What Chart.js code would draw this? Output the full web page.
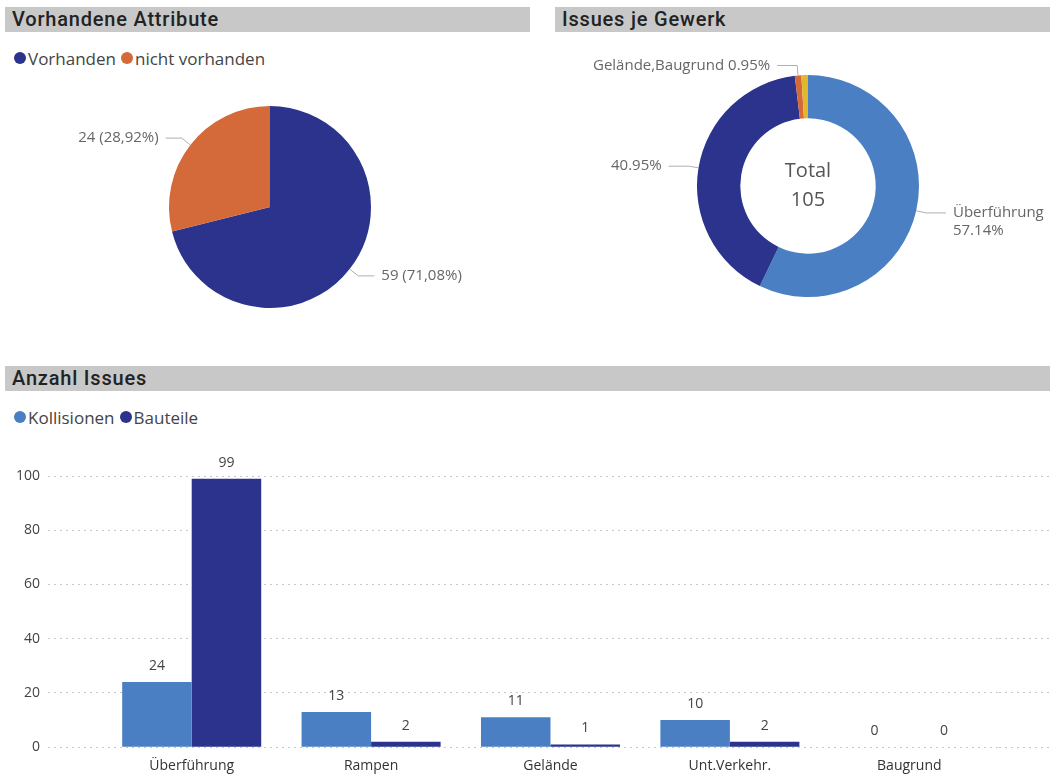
<!DOCTYPE html>
<html>
<head>
<meta charset="utf-8">
<script src="https://cdn.jsdelivr.net/npm/chart.js@4.4.0/dist/chart.umd.min.js"></script>
<style>
  body { margin: 0; width: 1052px; height: 774px; position: relative; background: #fff; overflow: hidden; font-family: "Open Sans", sans-serif; }
  .hdr { position: absolute; height: 25px; background: #c8c8c8; font-family: Roboto, sans-serif; font-weight: 500; font-size: 20px; letter-spacing: 0.8px; line-height: 25px; color: #222; padding-left: 7px; box-sizing: border-box; }
  .legend { position: absolute; display: flex; align-items: center; font-size: 17px; color: #444; height: 20px; }
  .legend .item { display: flex; align-items: center; margin-right: 5px; }
  .legend .dot { display: inline-block; width: 12px; height: 12px; border-radius: 50%; margin-right: 2px; }
  .box { position: absolute; }
</style>
</head>
<body>
<div class="hdr" style="left:5px;top:7px;width:525px">Vorhandene Attribute</div>
<div class="hdr" style="left:555px;top:7px;width:495px">Issues je Gewerk</div>
<div class="hdr" style="left:5px;top:366px;width:1045px">Anzahl Issues</div>
<div class="legend" id="leg1" style="left:14px;top:48px"></div>
<div class="legend" id="leg3" style="left:14px;top:407px"></div>

<div class="box" style="left:0;top:80px;width:540px;height:280px"><canvas id="pie"></canvas></div>
<div class="box" style="left:540px;top:40px;width:512px;height:320px"><canvas id="donut"></canvas></div>
<div class="box" style="left:0;top:440px;width:1052px;height:347px"><canvas id="bars"></canvas></div>

<script>
// Vorhandene Attribute
const pieLabels = ["Vorhanden", "nicht vorhanden"];
const pieValues = [59, 24];
const pieColors = ["#2b338c", "#d4693a"];

// Issues je Gewerk
const gewerkLabels = ["Überführung", "Rampen", "Gelände", "Baugrund"];
const gewerkValues = [60, 43, 1, 1];
const gewerkColors = ["#4a80c3", "#2b338c", "#d4693a", "#e2b72c"];
const gewerkLabelNames = ["Überführung", "", "Gelände,Baugrund", null];

// Anzahl Issues
const barCategories = ["Überführung", "Rampen", "Gelände", "Unt.Verkehr.", "Baugrund"];
const kollisionen = [24, 13, 11, 10, 0];
const bauteile = [99, 2, 1, 2, 0];
const barColors = ["#4a80c3", "#2b338c"];
const yTicks = [0, 20, 40, 60, 80, 100];

Chart.defaults.font.family = '"Open Sans", sans-serif';
Chart.defaults.animation = false;

function buildLegend(id, labels, colors) {
  const el = document.getElementById(id);
  labels.forEach((l, i) => {
    const item = document.createElement("span");
    item.className = "item";
    item.innerHTML = '<span class="dot" style="background:' + colors[i] + '"></span>' + l;
    el.appendChild(item);
  });
}
buildLegend("leg1", pieLabels, pieColors);
buildLegend("leg3", ["Kollisionen", "Bauteile"], barColors);

// leader line labels outside the slices
function outsideLabels(lines, elbow, run) {
  return {
    id: "outsideLabels",
    afterDatasetsDraw(chart) {
      const ctx = chart.ctx;
      const meta = chart.getDatasetMeta(0);
      ctx.save();
      ctx.font = '15px "Open Sans"';
      ctx.fillStyle = "#666";
      ctx.strokeStyle = "#b0b0b0";
      ctx.lineWidth = 1;
      ctx.textBaseline = "middle";
      meta.data.forEach((arc, i) => {
        if (!lines[i]) return;
        const a = (arc.startAngle + arc.endAngle) / 2;
        const r = arc.outerRadius;
        const dx = Math.cos(a), dy = Math.sin(a);
        const x0 = arc.x + dx * r, y0 = arc.y + dy * r;
        const x1 = arc.x + dx * (r + elbow), y1 = arc.y + dy * (r + elbow);
        const side = dx >= 0 ? 1 : -1;
        const x2 = x1 + side * run;
        ctx.beginPath();
        ctx.moveTo(x0, y0);
        ctx.lineTo(x1, y1);
        ctx.lineTo(x2, y1);
        ctx.stroke();
        ctx.textAlign = side > 0 ? "left" : "right";
        lines[i].forEach((t, k) => ctx.fillText(t, x2 + side * 7, y1 + k * 18));
      });
      ctx.restore();
    }
  };
}

const pieTotal = pieValues.reduce((a, b) => a + b, 0);
const pieLines = pieValues.map(v => [v + " (" + (v / pieTotal * 100).toFixed(2).replace(".", ",") + "%)"]);

new Chart(document.getElementById("pie"), {
  type: "pie",
  data: {
    labels: pieLabels,
    datasets: [{ data: pieValues, backgroundColor: pieColors, borderWidth: 0 }]
  },
  options: {
    responsive: true,
    maintainAspectRatio: false,
    layout: { padding: { top: 26, bottom: 52 } },
    plugins: { legend: { display: false }, tooltip: { enabled: false } }
  },
  plugins: [outsideLabels(pieLines, 11, 16)]
});

const gewerkTotal = gewerkValues.reduce((a, b) => a + b, 0);
const gewerkLines = gewerkValues.map((v, i) => {
  const name = gewerkLabelNames[i];
  if (name === null) return null;
  const pct = (v / gewerkTotal * 100).toFixed(2) + "%";
  if (name === "") return [pct];
  if (i === 0) return [name, pct];
  return [name + " " + pct];
});

const centerTotal = {
  id: "centerTotal",
  afterDatasetsDraw(chart) {
    const arc = chart.getDatasetMeta(0).data[0];
    const ctx = chart.ctx;
    ctx.save();
    ctx.font = '20px "Open Sans"';
    ctx.fillStyle = "#555";
    ctx.textAlign = "center";
    ctx.textBaseline = "middle";
    ctx.fillText("Total", arc.x, arc.y - 15);
    ctx.fillText(String(gewerkTotal), arc.x, arc.y + 14);
    ctx.restore();
  }
};

new Chart(document.getElementById("donut"), {
  type: "doughnut",
  data: {
    labels: gewerkLabels,
    datasets: [{ data: gewerkValues, backgroundColor: gewerkColors, borderWidth: 0 }]
  },
  options: {
    responsive: true,
    maintainAspectRatio: false,
    cutout: "61%",
    layout: { padding: { top: 35, bottom: 63, left: 24 } },
    plugins: { legend: { display: false }, tooltip: { enabled: false } }
  },
  plugins: [outsideLabels(gewerkLines, 10, 20), centerTotal]
});

const barValueLabels = {
  id: "barValueLabels",
  afterDatasetsDraw(chart) {
    const ctx = chart.ctx;
    ctx.save();
    ctx.font = '14px "Open Sans"';
    ctx.fillStyle = "#444";
    ctx.textAlign = "center";
    ctx.textBaseline = "middle";
    chart.data.datasets.forEach((ds, d) => {
      chart.getDatasetMeta(d).data.forEach((bar, i) => {
        ctx.fillText(String(ds.data[i]), bar.x, bar.y - 16);
      });
    });
    ctx.restore();
  }
};

const dotted = [2, 4];

new Chart(document.getElementById("bars"), {
  type: "bar",
  data: {
    labels: barCategories,
    datasets: [
      { label: "Kollisionen", data: kollisionen, backgroundColor: barColors[0], categoryPercentage: 0.775, barPercentage: 1.0 },
      { label: "Bauteile", data: bauteile, backgroundColor: barColors[1], categoryPercentage: 0.775, barPercentage: 1.0 }
    ]
  },
  options: {
    responsive: true,
    maintainAspectRatio: false,
    layout: { padding: { top: 36, bottom: 3, left: 0, right: 2 } },
    plugins: { legend: { display: false }, tooltip: { enabled: false } },
    scales: {
      x: {
        grid: { display: false, drawTicks: false },
        border: { display: false },
        ticks: { font: { size: 14 }, color: "#333", padding: 10 }
      },
      y: {
        min: 0,
        max: 100,
        afterBuildTicks: s => { s.ticks = yTicks.map(v => ({ value: v })); },
        afterFit: s => { s.width = 102; },
        border: { display: false, dash: dotted },
        grid: { color: "#c8c8c8", tickLength: 54, tickBorderDash: dotted, tickColor: "#c8c8c8" },
        ticks: { font: { size: 14 }, color: "#444", padding: 8 }
      },
      y2: {
        position: "right",
        min: 0,
        max: 100,
        afterBuildTicks: s => { s.ticks = yTicks.map(v => ({ value: v })); },
        afterFit: s => { s.width = 51; },
        border: { display: false, dash: dotted },
        grid: { drawOnChartArea: false, color: "#c8c8c8", tickLength: 51, tickBorderDash: dotted, tickColor: "#c8c8c8" },
        ticks: { display: false }
      }
    }
  },
  plugins: [barValueLabels]
});
</script>
</body>
</html>
